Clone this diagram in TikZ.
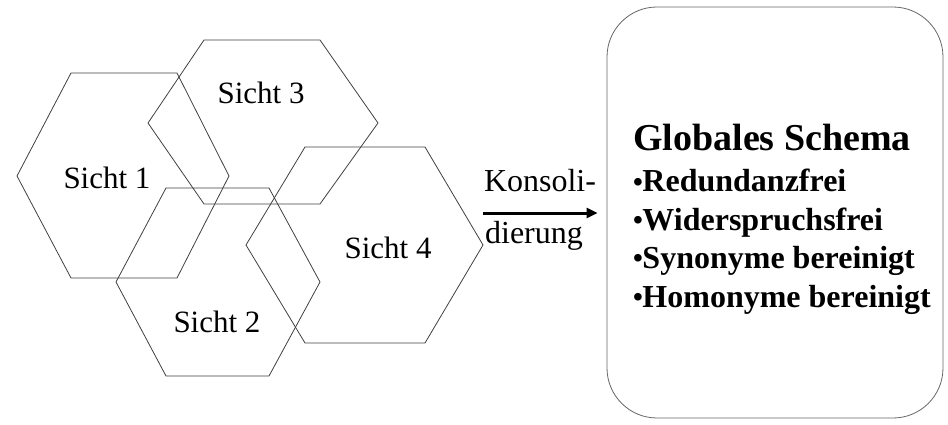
\documentclass[tikz,border=0pt]{standalone}
\usepackage{fontspec}
\setmainfont{Liberation Serif}
\usetikzlibrary{arrows.meta}
\newcommand{\smbul}{\makebox[0.29em][l]{\raisebox{0.02em}{\fontsize{28}{28}\bfseries\selectfont•}}}
\begin{document}
\begin{tikzpicture}[x=1pt,y=-1pt,
  hex/.style={draw=black!75,line width=0.8pt},
  lbl/.style={anchor=base,inner sep=0pt,font=\fontsize{31}{36}\selectfont},
  item/.style={anchor=base west,inner sep=0pt,font=\fontsize{32}{38}\bfseries\selectfont},
  box/.style={draw=black!60,line width=0.8pt,rounded corners=50pt,minimum width=336pt,minimum height=411pt,inner sep=0pt}]
\useasboundingbox (0,0) rectangle (948,425);
% hexagons
\draw[hex] (17,176) -- (71,73) -- (177,73) -- (229,176) -- (177,278) -- (71,278) -- cycle;
\draw[hex] (148,123) -- (204,40) -- (320,40) -- (378,123) -- (320,204) -- (204,204) -- cycle;
\draw[hex] (116,282) -- (166,188) -- (269,188) -- (320,282) -- (269,376) -- (166,376) -- cycle;
\draw[hex] (246,245) -- (305,147) -- (425,147) -- (483,245) -- (425,343) -- (305,343) -- cycle;
\node[lbl] (s1) at (107,188) {Sicht 1};
\node[lbl] (s3) at (261,104) {Sicht 3};
\node[lbl] (s2) at (217,332) {Sicht 2};
\node[lbl] (s4) at (388,258) {Sicht 4};
% box
\node[box] (gs) at (775,212.5) {};
\node[anchor=base west,inner sep=0pt,font=\fontsize{38}{44}\bfseries\selectfont] (title) at (633,150) {Globales Schema};
\node[item] (i1) at (633,192) {\smbul Redundanzfrei};
\node[item] (i2) at (633,230) {\smbul Widerspruchsfrei};
\node[item] (i3) at (633,268) {\smbul Synonyme bereinigt};
\node[item] (i4) at (633,307) {\smbul Homonyme bereinigt};
% arrow
\node[lbl,font=\fontsize{32}{38}\selectfont] (k1) at (540,192) {Konsoli-};
\node[lbl,font=\fontsize{32}{38}\selectfont] (k2) at (534,243) {dierung};
\coordinate (as) at (483,213);
\draw[line width=3pt,-{Triangle[length=11pt,width=10pt]},shorten >=9pt] (as) -- (as -| gs.west);
\end{tikzpicture}
\end{document}
